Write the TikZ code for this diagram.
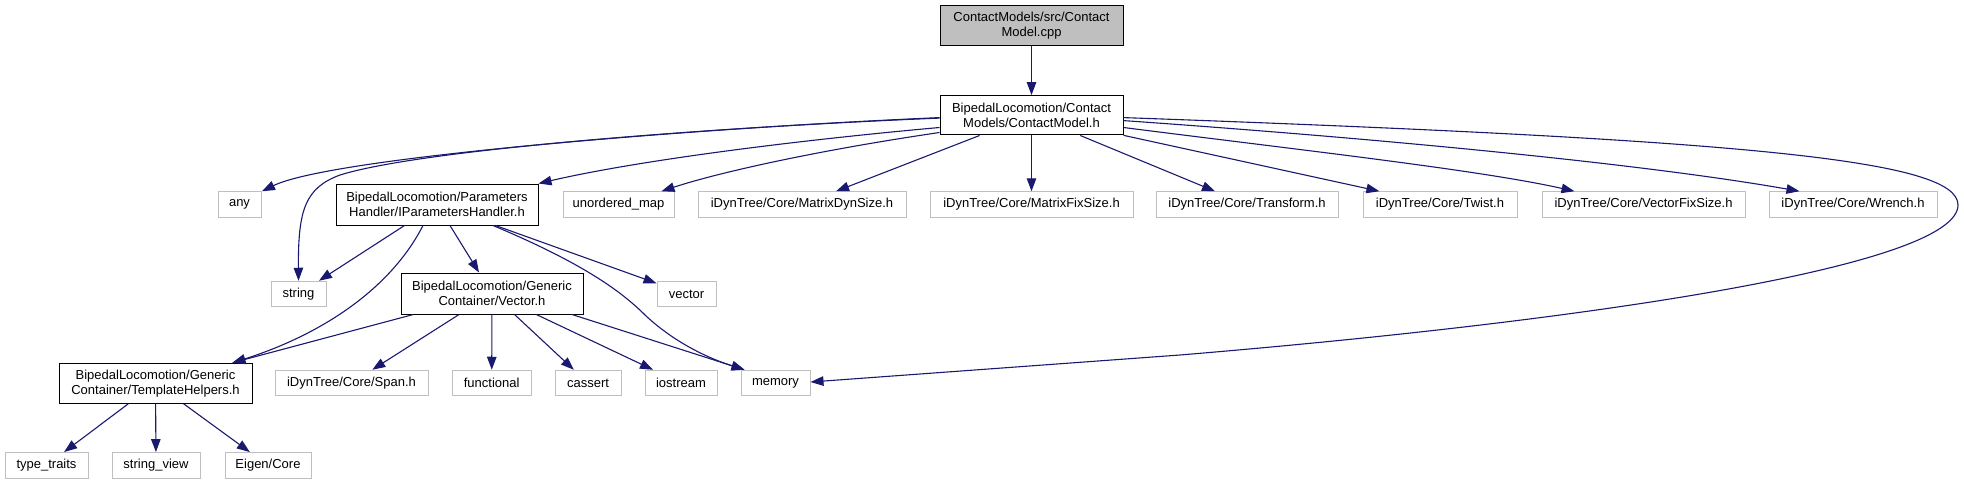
\documentclass[tikz,border=0pt]{standalone}
\usepackage{fontspec}
\setmainfont{Liberation Sans}
\usetikzlibrary{arrows.meta,calc}
\definecolor{edgec}{HTML}{191970}
\definecolor{grayb}{HTML}{BFBFBF}
\begin{document}
\begin{tikzpicture}[x=1pt,y=-1pt,
  box/.style={draw, rectangle, inner sep=0pt, align=center, font=\fontsize{13}{15}\selectfont, line width=1pt},
  ext/.style={box, draw=grayb, minimum height=25.5},
  int/.style={box, draw=black},
  src/.style={box, draw=black, fill=grayb},
  edge/.style={draw=edgec, line width=1.1pt, -{Triangle[length=13pt,width=9.5pt]}}]
\useasboundingbox (0,0) rectangle (1964,484);
% row 1-2
\node[src, minimum width=183, minimum height=40] (root) at (1031.5,26) {ContactModels/src/Contact\\Model.cpp};
\node[int, minimum width=183, minimum height=39.4] (CM) at (1031.5,115.3) {BipedalLocomotion/Contact\\Models/ContactModel.h};
% row 3
\node[ext, minimum width=43] (any) at (239.5,204.5) {any};
\node[int, minimum width=202, minimum height=41] (IPH) at (437,204.5) {BipedalLocomotion/Parameters\\Handler/IParametersHandler.h};
\node[ext, minimum width=111] (umap) at (618.5,204.5) {unordered\_map};
\node[ext, minimum width=208] (MDS) at (802,204.5) {iDynTree/Core/MatrixDynSize.h};
\node[ext, minimum width=203] (MFS) at (1031.5,204.5) {iDynTree/Core/MatrixFixSize.h};
\node[ext, minimum width=182] (Tr) at (1247,204.5) {iDynTree/Core/Transform.h};
\node[ext, minimum width=154] (Tw) at (1440,204.5) {iDynTree/Core/Twist.h};
\node[ext, minimum width=203] (VFS) at (1643.5,204.5) {iDynTree/Core/VectorFixSize.h};
\node[ext, minimum width=168] (Wr) at (1853,204.5) {iDynTree/Core/Wrench.h};
% row 4
\node[ext, minimum width=55] (str) at (298.5,294) {string};
\node[int, minimum width=182, minimum height=41] (Vec) at (492,293.5) {BipedalLocomotion/Generic\\Container/Vector.h};
\node[ext, minimum width=59] (vecs) at (686.5,294) {vector};
% row 5
\node[int, minimum width=193, minimum height=40] (TH) at (155.5,383.3) {BipedalLocomotion/Generic\\Container/TemplateHelpers.h};
\node[ext, minimum width=153] (Span) at (351.5,383) {iDynTree/Core/Span.h};
\node[ext, minimum width=79] (func) at (491.7,383) {functional};
\node[ext, minimum width=66] (cass) at (588,383) {cassert};
\node[ext, minimum width=72] (iost) at (681,383) {iostream};
\node[ext, minimum width=69] (mem) at (775.5,383) {memory};
% row 6
\node[ext, minimum width=83] (tt) at (46.5,465.3) {type\_traits};
\node[ext, minimum width=88] (sv) at (156,465.3) {string\_view};
\node[ext, minimum width=86] (eig) at (268,465.3) {Eigen/Core};
% edges
\draw[edge] (root) -- (CM);
\draw[edge] ($(CM.north west)+(0,22.5)$) .. controls (700,128) and (332,157) .. ($(any.north east)+(0.5,0)$);
\draw[edge] ($(CM.north west)+(0,23)$) .. controls (700,128) and (420,150) .. (340,175) .. controls (305,188) and (298,210) .. (str.north);
\draw[edge] ($(CM.south west)+(0,-8)$) .. controls (800,140) and (640,160) .. (IPH.north east);
\draw[edge] ($(CM.south west)+(0,-3)$) .. controls (820,150) and (720,172) .. ($(umap.north east)+(-13,0)$);
\draw[edge] (CM) -- (MDS);
\draw[edge] (CM) -- (MFS);
\draw[edge] (CM) -- (Tr);
\draw[edge] (CM) -- (Tw);
\draw[edge] ($(CM.south east)+(0,-8)$) .. controls (1300,150) and (1480,170) .. ($(VFS.north west)+(33,0)$);
\draw[edge] ($(CM.north east)+(0,25.5)$) .. controls (1400,140) and (1650,165) .. ($(Wr.north west)+(31,0)$);
\draw[edge] ($(CM.north east)+(0,22.5)$) .. controls (1750,140) and (1958,160) .. (1958,205) .. controls (1958,265) and (1600,320) .. (1180,355) -- ($(mem.east)+(0,-1)$);
\draw[edge] (IPH) -- (str);
\draw[edge] ($(IPH.south)+(-14,0)$) .. controls (390,290) and (320,335) .. ($(TH.north east)+(-20,0)$);
\draw[edge] (IPH) -- (Vec);
\draw[edge] ($(IPH.south)+(56,0)$) .. controls (580,262) and (620,290) .. (645,315) .. controls (680,348) and (720,362) .. ($(mem.north west)+(4,0)$);
\draw[edge] (IPH) -- (vecs);
\draw[edge] (Vec) -- (TH);
\draw[edge] (Vec) -- (Span);
\draw[edge] (Vec) -- (func);
\draw[edge] (Vec) -- (cass);
\draw[edge] (Vec) -- (iost);
\draw[edge] ($(Vec.south)+(80,0)$) -- ($(mem.north west)+(4,0)$);
\draw[edge] (TH) -- (tt);
\draw[edge] (TH) -- (sv);
\draw[edge] (TH) -- (eig);
\end{tikzpicture}
\end{document}
